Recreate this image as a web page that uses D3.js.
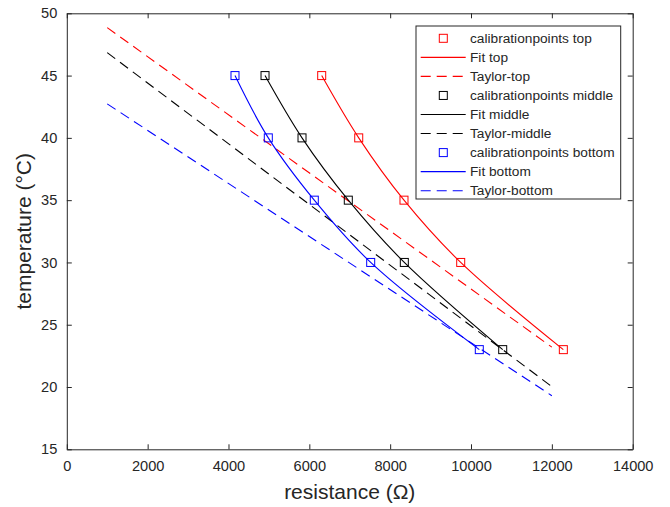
<!DOCTYPE html>
<html>
<head>
<meta charset="utf-8">
<script src="https://cdn.jsdelivr.net/npm/d3@7/dist/d3.min.js"></script>
<style>
  html, body { margin: 0; padding: 0; background: #fff; }
  svg { display: block; font-family: "Liberation Sans", Arial, Helvetica, sans-serif; }
</style>
</head>
<body>
<div id="chart"></div>
<script>
// ── Data ──────────────────────────────────────────────────────
const temps = [45, 40, 35, 30, 23];                    // °C, calibration temperatures
const resTop = [6306, 7222, 8342, 9745, 12284];        // Ω
const resMiddle = [4904, 5819, 6964, 8350, 10784];
const resBottom = [4161, 4985, 6123, 7518, 10205];

// Taylor lines: straight segments between two resistances
const taylorRes = [1000, 12000];
const taylorTop = [48.85, 23.2];
const taylorMiddle = [46.84, 20.03];
const taylorBottom = [42.73, 19.3];

const xTicks = [0, 2000, 4000, 6000, 8000, 10000, 12000, 14000];
const yTicks = [15, 20, 25, 30, 35, 40, 45, 50];

const legendLabels = [
  'calibrationpoints top', 'Fit top', 'Taylor-top',
  'calibrationpoints middle', 'Fit middle', 'Taylor-middle',
  'calibrationpoints bottom', 'Fit bottom', 'Taylor-bottom'
];

// ── Layout ────────────────────────────────────────────────────
const W = 670, H = 507;
const plot = { left: 66.8, right: 632.7, top: 13.3, bottom: 449.3 };
const axisColor = '#262626';

const x = d3.scaleLinear().domain([0, 14000]).range([plot.left, plot.right]);
const y = d3.scaleLinear().domain([15, 50]).range([plot.bottom, plot.top]);

const svg = d3.select('#chart').append('svg')
  .attr('width', W)
  .attr('height', H);

svg.append('rect')
  .attr('x', plot.left).attr('y', plot.top)
  .attr('width', plot.right - plot.left)
  .attr('height', plot.bottom - plot.top)
  .attr('fill', '#fff');

// ── Axes (inward ticks on all four sides, MATLAB box) ─────────
function styleAxis(g) {
  g.selectAll('path, line').attr('stroke', axisColor).attr('stroke-width', 1);
  g.selectAll('text')
    .attr('fill', axisColor)
    .attr('font-size', 14.6)
    .attr('font-family', '"Liberation Sans", Arial, sans-serif');
}

svg.append('g')
  .attr('transform', `translate(0,${plot.bottom})`)
  .call(d3.axisBottom(x).tickValues(xTicks).tickFormat(d3.format('d'))
    .tickSizeInner(-5).tickSizeOuter(0).tickPadding(11))
  .call(styleAxis);

svg.append('g')
  .attr('transform', `translate(${plot.left},0)`)
  .call(d3.axisLeft(y).tickValues(yTicks).tickFormat(d3.format('d'))
    .tickSizeInner(-5).tickSizeOuter(0).tickPadding(9.5))
  .call(styleAxis);

svg.append('g')
  .attr('transform', `translate(0,${plot.top})`)
  .call(d3.axisTop(x).tickValues(xTicks).tickFormat('')
    .tickSizeInner(-5).tickSizeOuter(0))
  .call(styleAxis);

svg.append('g')
  .attr('transform', `translate(${plot.right},0)`)
  .call(d3.axisRight(y).tickValues(yTicks).tickFormat('')
    .tickSizeInner(-5).tickSizeOuter(0))
  .call(styleAxis);

// Axis labels
svg.append('text')
  .attr('x', (plot.left + plot.right) / 2)
  .attr('y', 499)
  .attr('text-anchor', 'middle')
  .attr('font-size', 21)
  .attr('fill', axisColor)
  .text('resistance (\u03A9)');

svg.append('text')
  .attr('transform', `translate(31,${(plot.top + plot.bottom) / 2}) rotate(-90)`)
  .attr('text-anchor', 'middle')
  .attr('font-size', 21)
  .attr('fill', axisColor)
  .text('temperature (\u00B0C)');

// ── Series ────────────────────────────────────────────────────
const series = [
  { color: '#ff0000', res: resTop, taylor: taylorTop },
  { color: '#000000', res: resMiddle, taylor: taylorMiddle },
  { color: '#0000ff', res: resBottom, taylor: taylorBottom },
];

const fitLine = d3.line()
  .x(d => x(d[0]))
  .y(d => y(d[1]))
  .curve(d3.curveCatmullRom.alpha(0.5));

const straight = d3.line()
  .x(d => x(d[0]))
  .y(d => y(d[1]));

const layer = svg.append('g');

series.forEach(s => {
  const pts = s.res.map((r, i) => [r, temps[i]]);

  // Taylor (dashed)
  layer.append('path')
    .attr('d', straight(taylorRes.map((r, i) => [r, s.taylor[i]])))
    .attr('fill', 'none')
    .attr('stroke', s.color)
    .attr('stroke-width', 1.1)
    .attr('stroke-dasharray', '10,6');

  // Fit (solid)
  layer.append('path')
    .attr('d', fitLine(pts))
    .attr('fill', 'none')
    .attr('stroke', s.color)
    .attr('stroke-width', 1.1);

  // Calibration points (open squares)
  layer.selectAll(null)
    .data(pts).join('rect')
    .attr('x', d => x(d[0]) - 4)
    .attr('y', d => y(d[1]) - 4)
    .attr('width', 8).attr('height', 8)
    .attr('fill', 'none')
    .attr('stroke', s.color)
    .attr('stroke-width', 1);
});

// ── Legend ────────────────────────────────────────────────────
const lg = { x0: 416, y0: 26, x1: 620.7, y1: 199, row0: 38.3, step: 19.05 };
const legend = svg.append('g');

legend.append('rect')
  .attr('x', lg.x0).attr('y', lg.y0)
  .attr('width', lg.x1 - lg.x0).attr('height', lg.y1 - lg.y0)
  .attr('fill', '#fff')
  .attr('stroke', axisColor)
  .attr('stroke-width', 1);

legendLabels.forEach((label, i) => {
  const s = series[Math.floor(i / 3)];
  const kind = i % 3;           // 0 marker, 1 solid, 2 dashed
  const cy = lg.row0 + i * lg.step;

  if (kind === 0) {
    legend.append('rect')
      .attr('x', 443.3 - 4).attr('y', cy - 4)
      .attr('width', 8).attr('height', 8)
      .attr('fill', 'none')
      .attr('stroke', s.color)
      .attr('stroke-width', 1);
  } else {
    legend.append('line')
      .attr('x1', 420.7).attr('x2', 465.7)
      .attr('y1', cy).attr('y2', cy)
      .attr('stroke', s.color)
      .attr('stroke-width', 1.1)
      .attr('stroke-dasharray', kind === 2 ? '10,6' : null);
  }

  legend.append('text')
    .attr('x', 470)
    .attr('y', cy)
    .attr('dy', '0.35em')
    .attr('font-size', 13.7)
    .attr('fill', axisColor)
    .text(label);
});
</script>
</body>
</html>
